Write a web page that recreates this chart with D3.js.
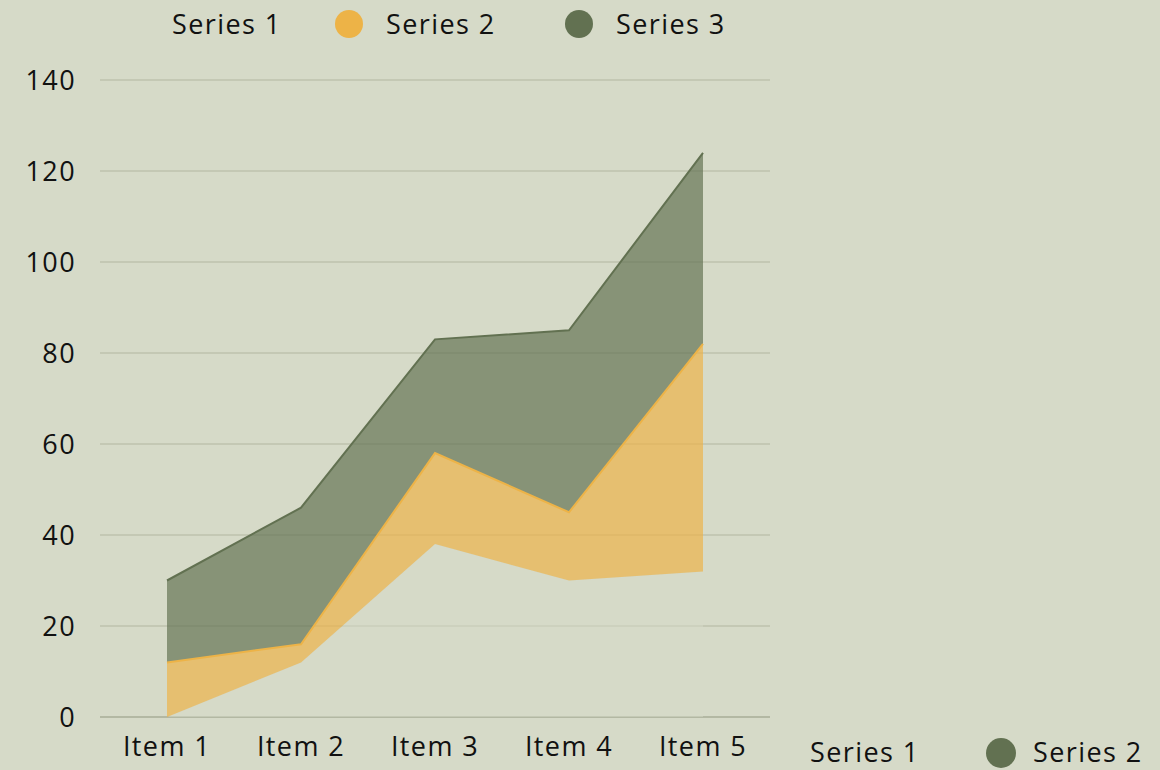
<!DOCTYPE html>
<html>
<head>
<meta charset="utf-8">
<script src="https://cdn.jsdelivr.net/npm/d3@7"></script>
<style>
  html, body { margin: 0; padding: 0; background: #d6dac8; }
  svg { display: block; font-family: "Open Sans", "Noto Sans", sans-serif; letter-spacing: 1.4px; }
</style>
</head>
<body>
<svg id="chart" width="1160" height="770"></svg>
<script>
const categories = ["Item 1", "Item 2", "Item 3", "Item 4", "Item 5"];
const seriesNames = ["Series 1", "Series 2", "Series 3"];
const series1 = [0, 12, 38, 30, 32];
const series2 = [12, 4, 20, 15, 50];
const series3 = [18, 30, 25, 40, 42];
const yTicks = [0, 20, 40, 60, 80, 100, 120, 140];
const bottomLegend = ["Series 1", "Series 2"];

const colors = ["#d6dac8", "#edb347", "#627151"];

const svg = d3.select("#chart");
const margin = { top: 80, right: 390, bottom: 53, left: 100 };
const W = 1160, H = 770;
const fs = 27;

const x = d3.scalePoint().domain(categories).range([margin.left, W - margin.right]).padding(0.5);
const y = d3.scaleLinear().domain([0, 140]).range([H - margin.bottom, margin.top]);

// grid
svg.append("g")
  .selectAll("line")
  .data(yTicks)
  .join("line")
  .attr("x1", margin.left)
  .attr("x2", W - margin.right)
  .attr("y1", d => y(d))
  .attr("y2", d => y(d))
  .attr("stroke", d => d === 0 ? "#8f957f" : "#b1b6a0")
  .attr("stroke-width", 1.2);

// y labels
svg.append("g")
  .selectAll("text")
  .data(yTicks)
  .join("text")
  .attr("x", 76)
  .attr("y", d => y(d))
  .attr("dy", "0.36em")
  .attr("text-anchor", "end")
  .attr("font-size", fs)
  .attr("fill", "#111")
  .text(d => d);

// x labels
svg.append("g")
  .selectAll("text")
  .data(categories)
  .join("text")
  .attr("x", d => x(d))
  .attr("y", 746)
  .attr("dy", "0.36em")
  .attr("text-anchor", "middle")
  .attr("font-size", fs)
  .attr("fill", "#111")
  .text(d => d);

// stacked areas
const rows = categories.map((c, i) => ({ cat: c, s1: series1[i], s2: series2[i], s3: series3[i] }));
const stack = d3.stack().keys(["s1", "s2", "s3"])(rows);

const area = d3.area()
  .x(d => x(d.data.cat))
  .y0(d => y(d[0]))
  .y1(d => y(d[1]));
const topLine = d3.line()
  .x(d => x(d.data.cat))
  .y(d => y(d[1]));

stack.forEach((layer, i) => {
  svg.append("path")
    .attr("d", area(layer))
    .attr("fill", colors[i])
    .attr("fill-opacity", i === 0 ? 0.5 : 0.68);
});
stack.forEach((layer, i) => {
  if (i === 0) return;
  svg.append("path")
    .attr("d", topLine(layer))
    .attr("fill", "none")
    .attr("stroke", colors[i])
    .attr("stroke-width", 2);
});

// top legend (series 1 has no visible marker)
const legendX = [172, 335, 565];
const lg = svg.append("g");
seriesNames.forEach((name, i) => {
  let tx = legendX[i];
  if (i > 0) {
    lg.append("circle").attr("cx", tx + 14).attr("cy", 24).attr("r", 14).attr("fill", colors[i]);
    tx += 51;
  }
  lg.append("text")
    .attr("x", tx).attr("y", 24).attr("dy", "0.36em")
    .attr("font-size", fs).attr("fill", "#111").text(name);
});

// stray bottom legend
const bl = svg.append("g");
bl.append("text")
  .attr("x", 810).attr("y", 752).attr("dy", "0.36em")
  .attr("font-size", fs).attr("fill", "#111").text(bottomLegend[0]);
bl.append("circle").attr("cx", 1001).attr("cy", 753).attr("r", 15).attr("fill", colors[2]);
bl.append("text")
  .attr("x", 1033).attr("y", 752).attr("dy", "0.36em")
  .attr("font-size", fs).attr("fill", "#111").text(bottomLegend[1]);
</script>
</body>
</html>
